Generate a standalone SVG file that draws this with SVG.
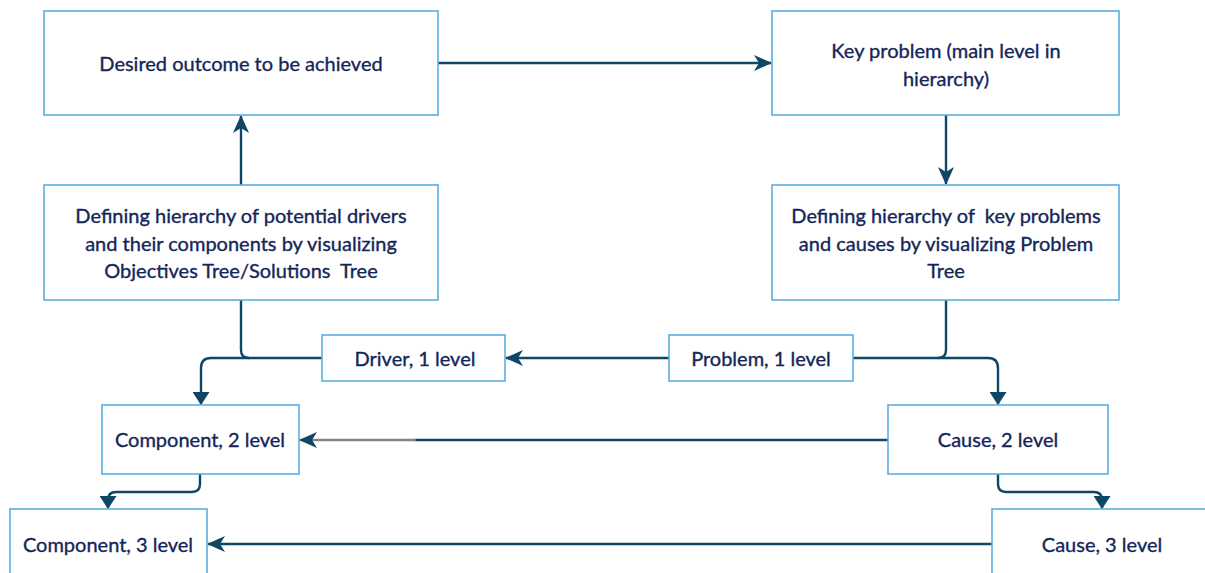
<svg xmlns="http://www.w3.org/2000/svg" width="1205" height="573" viewBox="0 0 1205 573">
<style>
.box{fill:#fff;stroke:#5aaee3;stroke-width:1.6}
.t{font-family:Lato,"Open Sans","Liberation Sans",sans-serif;font-size:20px;fill:#142659;stroke:#142659;stroke-width:0.35;text-anchor:middle;dominant-baseline:central}
.ln{fill:none;stroke:#0e4766;stroke-width:2.4}
.gray{fill:none;stroke:#858585;stroke-width:2.4}
</style>
<defs>
<marker id="stealth" viewBox="0 0 18 16" refX="17" refY="8" markerWidth="18" markerHeight="16" markerUnits="userSpaceOnUse" orient="auto">
<path d="M0,0 L18,8 L0,16 L5,8 Z" fill="#0e4766"/>
</marker>
<marker id="tri" viewBox="0 0 13 17" refX="12" refY="8.5" markerWidth="13" markerHeight="17" markerUnits="userSpaceOnUse" orient="auto">
<path d="M0,0 L13,8.5 L0,17 Z" fill="#0e4766"/>
</marker>
</defs>
<rect width="1205" height="573" fill="#fff"/>
<g id="connectors">
<path class="ln" d="M438,63 H771" marker-end="url(#stealth)"/>
<path class="ln" d="M241,185 V116" marker-end="url(#stealth)"/>
<path class="ln" d="M946,115 V184" marker-end="url(#stealth)"/>
<path class="ln" d="M241,300 V350 Q241,358 249,358"/>
<path class="ln" d="M322,358 H211 Q201,358 201,368 V404" marker-end="url(#tri)"/>
<path class="ln" d="M669,358 H506" marker-end="url(#stealth)"/>
<path class="ln" d="M946,300 V350 Q946,358 938,358"/>
<path class="ln" d="M853,358 H988 Q998,358 998,368 V404" marker-end="url(#tri)"/>
<path class="ln" d="M888,440 H415"/>
<path class="gray" d="M416,440 H300"/>
<path class="ln" d="M330,440 H300" stroke-opacity="0" marker-end="url(#stealth)"/>
<path class="ln" d="M992,544 H208" marker-end="url(#stealth)"/>
<path class="ln" d="M200,474 V484 Q200,492 192,492 H116 Q108,492 108,500 V508" marker-end="url(#tri)"/>
<path class="ln" d="M998,474 V484 Q998,492 1006,492 H1094 Q1102,492 1102,500 V508" marker-end="url(#tri)"/>
</g>
<g id="n-desired">
<rect class="box" x="44" y="11" width="394" height="104"/>
<text class="t" x="241" y="63">Desired outcome to be achieved</text>
</g>
<g id="n-key">
<rect class="box" x="772" y="11" width="347" height="104"/>
<text class="t" x="946" y="50">Key problem (main level in</text>
<text class="t" x="946" y="78">hierarchy)</text>
</g>
<g id="n-drivers">
<rect class="box" x="44" y="185" width="394" height="115"/>
<text class="t" x="241" y="215">Defining hierarchy of potential drivers</text>
<text class="t" x="241" y="243">and their components by visualizing</text>
<text class="t" x="241" y="270" xml:space="preserve">Objectives Tree/Solutions  Tree</text>
</g>
<g id="n-problems">
<rect class="box" x="772" y="185" width="347" height="115"/>
<text class="t" x="946" y="215" xml:space="preserve">Defining hierarchy of  key problems</text>
<text class="t" x="946" y="243">and causes by visualizing Problem</text>
<text class="t" x="946" y="270">Tree</text>
</g>
<g id="n-driver1">
<rect class="box" x="322" y="335" width="183" height="46"/>
<text class="t" x="415" y="358">Driver, 1 level</text>
</g>
<g id="n-problem1">
<rect class="box" x="669" y="335" width="184" height="46"/>
<text class="t" x="761" y="358">Problem, 1 level</text>
</g>
<g id="n-comp2">
<rect class="box" x="102" y="405" width="197" height="69"/>
<text class="t" x="200" y="439">Component, 2 level</text>
</g>
<g id="n-cause2">
<rect class="box" x="888" y="405" width="220" height="69"/>
<text class="t" x="998" y="439">Cause, 2 level</text>
</g>
<g id="n-comp3">
<rect class="box" x="10" y="509" width="197" height="80"/>
<text class="t" x="108" y="544">Component, 3 level</text>
</g>
<g id="n-cause3">
<rect class="box" x="992" y="509" width="230" height="80"/>
<text class="t" x="1102" y="544">Cause, 3 level</text>
</g>
</svg>
